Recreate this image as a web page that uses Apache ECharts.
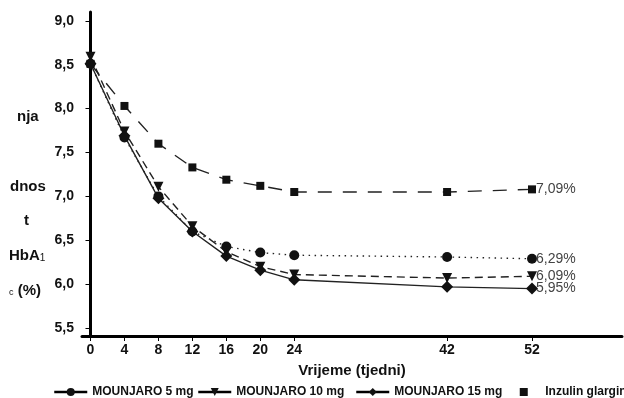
<!DOCTYPE html>
<html lang="hr">
<head>
    <meta charset="UTF-8">
    <title>HbA1c</title>
    <script src="https://cdn.jsdelivr.net/npm/echarts@6.0.0/dist/echarts.min.js"></script>
    <style type="text/css">
        *{
            margin: 0px;
            padding: 0px;
        }
        body{
            background-color: #fff;
        }
        #chart{
            width: 624px;
            height: 398px;
        }
    </style>
</head>
<body>
<div id="chart"></div>
<script type="text/javascript">
    // tjedni
    var weeks = [0, 4, 8, 12, 16, 20, 24, 42, 52];
    var names = ['MOUNJARO 5 mg', 'MOUNJARO 10 mg', 'MOUNJARO 15 mg', 'Inzulin glargin'];
    var mg5 = [8.51, 7.67, 7.00, 6.60, 6.43, 6.36, 6.33, 6.31, 6.29];
    var mg10 = [8.59, 7.74, 7.11, 6.66, 6.37, 6.20, 6.11, 6.07, 6.09];
    var mg15 = [8.51, 7.69, 6.98, 6.60, 6.32, 6.16, 6.05, 5.97, 5.95];
    var glargin = [8.51, 8.03, 7.60, 7.33, 7.19, 7.12, 7.05, 7.05, 7.08];
    var endLabels = ['6,29%', '6,09%', '5,95%', '7,09%'];
    var yTicks = [5.5, 6.0, 6.5, 7.0, 7.5, 8.0, 8.5, 9.0];

    var font = 'Liberation Sans, Arial, sans-serif';
    var myChart = echarts.init(document.getElementById('chart'));

    function pairs(arr){
        return weeks.map(function (w, i) { return [w, arr[i]]; });
    }

    function makeSeries(idx, arr, symbol, size, lineType, rotate){
        return {
            name: names[idx],
            type: 'line',
            data: pairs(arr),
            symbol: symbol,
            symbolSize: size,
            symbolRotate: rotate || 0,
            showAllSymbol: true,
            animation: false,
            itemStyle: {color: '#111'},
            lineStyle: {color: '#222', width: 1.4, type: lineType},
            endLabel: {
                show: true,
                distance: 4,
                formatter: function () { return endLabels[idx]; },
                fontFamily: font,
                fontSize: 14,
                color: '#444'
            }
        };
    }

    // jedna legenda po seriji, da stoje kao na slici
    var legendLeft = [53, 197, 355, 506];
    var legends = names.map(function (n, i) {
        var item = {name: n};
        if (i === 3) {
            item.lineStyle = {opacity: 0};
        }
        return {
            left: legendLeft[i],
            top: 386,
            padding: 0,
            itemWidth: 33,
            itemHeight: 10,
            textStyle: {fontFamily: font, fontSize: 12, fontWeight: 'bold', color: '#111'},
            lineStyle: {type: 'solid', width: 2.5, color: '#000'},
            selectedMode: false,
            data: [item]
        };
    });

    var option = {
        backgroundColor: '#fff',
        grid: {
            left: 82,
            right: 2,
            top: 12,
            bottom: 62,
            outerBoundsMode: 'none'
        },
        xAxis: {
            type: 'value',
            min: -1,
            max: 62.6,
            name: 'Vrijeme (tjedni)',
            nameLocation: 'middle',
            nameGap: 27,
            nameTextStyle: {fontFamily: font, fontSize: 15, fontWeight: 'bold', color: '#111'},
            axisLine: {show: true, onZero: false, lineStyle: {color: '#000', width: 3}},
            axisTick: {show: true, length: 5, customValues: weeks, lineStyle: {color: '#000', width: 1}},
            axisLabel: {
                customValues: weeks,
                margin: 7,
                fontFamily: font,
                fontSize: 14,
                fontWeight: 'bold',
                color: '#111'
            },
            splitLine: {show: false}
        },
        yAxis: {
            type: 'value',
            min: 5.41,
            max: 9.1,
            axisLine: {show: true, lineStyle: {color: '#000', width: 3}},
            axisTick: {show: true, length: 5, customValues: yTicks, lineStyle: {color: '#000', width: 1}},
            axisLabel: {
                customValues: yTicks,
                margin: 8,
                fontFamily: font,
                fontSize: 14,
                fontWeight: 'bold',
                color: '#111',
                formatter: function (v) { return v.toFixed(1).replace('.', ','); }
            },
            splitLine: {show: false}
        },
        legend: legends,
        graphic: [
            {type: 'text', left: 17, top: 109, style: {text: 'nja', font: 'bold 15px ' + font, fill: '#111'}},
            {type: 'text', left: 10, top: 179, style: {text: 'dnos', font: 'bold 15px ' + font, fill: '#111'}},
            {type: 'text', left: 24, top: 213, style: {text: 't', font: 'bold 15px ' + font, fill: '#111'}},
            {type: 'text', left: 9, top: 248, style: {
                text: 'HbA{s|1}',
                font: 'bold 15px ' + font,
                fill: '#111',
                rich: {s: {fontSize: 10, fontWeight: 'normal', fontFamily: font, padding: [5, 0, 0, 0]}}
            }},
            {type: 'text', left: 9, top: 283, style: {
                text: '{s|c} (%)',
                font: 'bold 15px ' + font,
                fill: '#111',
                rich: {s: {fontSize: 9, fontWeight: 'normal', fontFamily: font, padding: [5, 0, 0, 0]}}
            }}
        ],
        series: [
            makeSeries(3, glargin, 'rect', 8, [14, 11]),
            makeSeries(0, mg5, 'circle', 10, [1.5, 4.5]),
            makeSeries(1, mg10, 'triangle', 10, [8, 5], 180),
            makeSeries(2, mg15, 'diamond', 12, 'solid')
        ]
    };
    myChart.setOption(option);
</script>
</body>
</html>
